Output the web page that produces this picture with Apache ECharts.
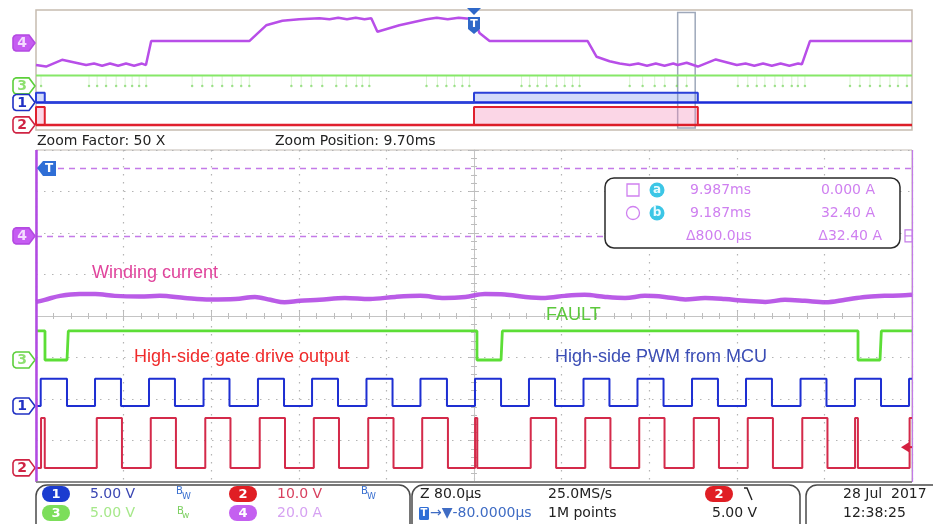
<!DOCTYPE html>
<html>
<head>
<meta charset="utf-8">
<title>Gate driver fault capture</title>
<script src="https://cdn.jsdelivr.net/npm/echarts@6.0.0/dist/echarts.min.js"></script>
<style>
html,body{margin:0;padding:0;background:#fff;}
#scope{width:933px;height:524px;}
</style>
</head>
<body>
<div id="scope"></div>
<script>
// ---- Channel vertical setup: units per division and ground position (divisions from screen centre)
const chScale = { ch1: 5, ch2: 10, ch3: 5, ch4: 20 };
const chPos   = { ch1: -2.17, ch2: -3.66, ch3: -1.06, ch4: 1.93 };

// ---- Overview record: time in ms, trigger at 0
const ovCurrent = [
  [-20.0,-32],[-19.54,-34],[-18.81,-25],[-17.71,-32],[-17.35,-30],[-16.98,-33],[-16.62,-30],
  [-16.25,-33],[-15.89,-30],[-15.52,-33],[-15.16,-30],[-14.98,-32],[-14.74,0],[-10.26,0],
  [-10.17,0],[-9.49,21],[-8.75,27],[-7.98,29],[-7.06,30.5],[-6.6,29],[-6.2,31],[-5.8,29],
  [-5.4,31],[-5.0,29],[-4.69,30.5],[-4.41,12.5],[-3.41,21],[-2.17,29],[-1.7,31],[-1.2,29],
  [-0.7,31],[-0.34,30],[0.0,30],[0.25,10.7],[0.71,0],[5.19,0],[5.6,-21],[6.19,-27],
  [6.65,-30],[7.11,-32],[7.5,-30],[7.9,-33],[8.3,-30],[8.7,-33],[9.1,-30],[9.30,-32],
  [9.71,-29],[10.22,-34],[11.04,-24.5],[12.0,-32],[12.4,-30],[12.8,-33],[13.2,-30],
  [13.6,-33],[14.0,-30],[14.4,-33],[14.8,-30],[14.97,-31],[15.34,0],[20.0,0]
];
// brief FAULT drops seen in the overview
const ovFaultDrops = [
  -19.77,-17.58,-17.21,-16.80,-16.34,-15.93,-15.61,-15.29,-14.97,
  -12.87,-12.41,-11.95,-11.50,-11.04,-10.63,-10.26,
  -8.34,-7.89,-7.43,-6.93,-6.29,-5.83,-5.37,-5.10,-4.78,
  -2.17,-1.67,-1.26,-0.89,-0.53,-0.21,
  2.17,2.54,2.90,3.31,3.77,4.14,4.50,4.82,
  7.11,7.70,8.25,8.71,9.26,9.71,
  12.05,12.50,12.91,13.28,13.74,14.10,14.51,14.79,15.11,
  17.17,17.62,18.08,18.54,18.99,19.36,19.77
];
// PWM / gate switching bursts in the overview (ms)
const ovBurstStart = [-20.0, 0.0];
const ovBurstEnd   = [-19.6, 10.22];
const zoomCentreMs = 9.70;
const zoomSpanMs = 0.8;

// ---- Zoomed window: time in µs relative to the zoom position
const current = [
  [-400,-31.8],[-392,-30.8],[-378,-28.9],[-360,-28.0],[-346,-28.0],[-328,-28.9],[-305,-29.2],
  [-287,-28.9],[-264,-29.9],[-241,-30.6],[-218,-30.4],[-200,-29.4],[-186,-30.8],[-173,-32.0],
  [-159,-31.3],[-141,-30.8],[-118,-29.9],[-95,-30.4],[-72,-29.4],[-49,-28.9],[-27,-29.9],
  [-8,-29.4],[10,-28.0],[28,-28.2],[47,-29.4],[65,-29.9],[83,-28.9],[101,-28.4],[120,-29.4],
  [138,-29.9],[156,-28.9],[174,-29.4],[193,-30.6],[211,-29.9],[229,-30.4],[248,-31.3],
  [266,-31.8],[284,-30.8],[302,-31.3],[321,-32.0],[339,-30.8],[357,-29.4],[375,-28.9],
  [389,-28.7],[400,-28.4]
];
const pwmRise = [-395.7,-346.1,-296.8,-247.0,-197.3,-147.9,-98.2,-48.9,0.9,50.2,100.0,149.3,199.1,248.4,298.2,347.9,397.3];
const pwmFall = [-371.7,-322.4,-273.1,-223.3,-173.5,-124.2,-74.4,-24.7,24.7,74.0,123.7,173.1,222.8,272.1,321.9,371.7];
const gateOn  = [-395.4,-344.5,-295.2,-245.4,-195.7,-146.3,-96.6,-47.3,1.0,51.8,101.6,150.9,200.7,250.0,299.8,348.0,397.8];
const gateOff = [-392.0,-321.5,-272.2,-222.4,-172.6,-123.3,-73.5,-23.8,3.0,75.0,124.6,174.0,223.7,273.0,322.8,350.6];
const faultDown = [-391.8, 2.7, 350.7];
const faultUp   = [-371.7, 24.7, 370.8];
const levels = { pwm: 3.3, gate: 12, fault: 3.5 };
const cursorLevels = [0, 32.4];
const trigLevel = 5.0;

const col = { ch1: '#1e2fd2', ch2: '#d42a4a', ch3: '#5cde36', ch4: '#b24ae4' };
const FONT = 'DejaVu Sans, Verdana, sans-serif';
const LABEL_FONT = 'Liberation Sans, Arial, sans-serif';

function yRange(ch) {
  return { min: (-4 - chPos[ch]) * chScale[ch], max: (4 - chPos[ch]) * chScale[ch] };
}
function hiddenY(grid, ch) {
  return Object.assign({ type: 'value', gridIndex: grid, show: false }, yRange(ch));
}
function pulseTrain(on, off, lo, hi, t0, t1) {
  const pts = [[t0, lo]];
  on.forEach((s, i) => {
    pts.push([s, lo], [s, hi]);
    if (i < off.length) pts.push([off[i], hi], [off[i], lo]);
    else pts.push([t1, hi]);
  });
  if (off.length >= on.length) pts.push([t1, lo]);
  return pts;
}
function dropTrain(down, up, lo, hi, t0, t1) {
  const pts = [[t0, hi]];
  down.forEach((s, i) => pts.push([s, hi], [s, lo], [up[i], lo], [up[i] + 1.2, hi]));
  pts.push([t1, hi]);
  return pts;
}
function bursts(starts, ends, hi) {
  const pts = [];
  starts.forEach((s, i) => pts.push([s, 0], [s, hi], [ends[i], hi], [ends[i], 0]));
  return pts;
}

const dotted = { type: [1.5, 6.5], color: '#b4b4b4', width: 1.2 };
const tickStyle = { color: '#bdbdbd', width: 1 };

const chart = echarts.init(document.getElementById('scope'), null, { renderer: 'canvas' });

const option = {
  animation: false,
  backgroundColor: '#ffffff',
  grid: [
    { left: 36, right: 21, top: 10, height: 120, show: true, borderColor: '#c6bcb0', borderWidth: 1.5, backgroundColor: 'transparent' },
    { left: 36, right: 21, top: 150, height: 332, show: true, borderColor: '#c2bab2', borderWidth: 1, backgroundColor: 'transparent' }
  ],
  xAxis: [
    { type: 'value', gridIndex: 0, min: -20, max: 20, show: false },
    { type: 'value', gridIndex: 1, min: -400, max: 400, interval: 80,
      axisLine: { show: false, onZero: false }, axisTick: { show: false }, axisLabel: { show: false },
      splitLine: { show: true, lineStyle: dotted } },
    { type: 'value', gridIndex: 1, min: -400, max: 400, interval: 80, position: 'bottom',
      axisLine: { show: true, onZero: true, onZeroAxisIndex: 4, lineStyle: { color: '#c4c4c4', width: 1 } },
      axisTick: { show: true, inside: true, length: 5, lineStyle: tickStyle },
      minorTick: { show: true, splitNumber: 5, length: 3, lineStyle: tickStyle },
      axisLabel: { show: false }, splitLine: { show: false } },
    { type: 'value', gridIndex: 1, min: -400, max: 400, interval: 80, position: 'bottom',
      axisLine: { show: false, onZero: true, onZeroAxisIndex: 4 },
      axisTick: { show: true, inside: false, length: 5, lineStyle: tickStyle },
      minorTick: { show: true, splitNumber: 5, length: 3, lineStyle: tickStyle },
      axisLabel: { show: false }, splitLine: { show: false } }
  ],
  yAxis: [
    hiddenY(0, 'ch1'), hiddenY(0, 'ch2'), hiddenY(0, 'ch3'), hiddenY(0, 'ch4'),
    { type: 'value', gridIndex: 1, min: -4, max: 4, interval: 1, position: 'left',
      axisLine: { show: true, onZero: true, onZeroAxisIndex: 1, lineStyle: { color: '#c4c4c4', width: 1 } },
      axisTick: { show: true, inside: true, length: 5, lineStyle: tickStyle },
      minorTick: { show: true, splitNumber: 5, length: 3, lineStyle: tickStyle },
      axisLabel: { show: false }, splitLine: { show: true, lineStyle: dotted } },
    { type: 'value', gridIndex: 1, min: -4, max: 4, interval: 1, position: 'left',
      axisLine: { show: false, onZero: true, onZeroAxisIndex: 1 },
      axisTick: { show: true, inside: false, length: 5, lineStyle: tickStyle },
      minorTick: { show: true, splitNumber: 5, length: 3, lineStyle: tickStyle },
      axisLabel: { show: false }, splitLine: { show: false } },
    hiddenY(1, 'ch1'), hiddenY(1, 'ch2'), hiddenY(1, 'ch3'), hiddenY(1, 'ch4')
  ],
  series: [
    // ---- overview traces
    { type: 'line', xAxisIndex: 0, yAxisIndex: 2, silent: true, showSymbol: false,
      data: [[-20, levels.fault], [20, levels.fault]], lineStyle: { color: '#86e868', width: 2 } },
    { type: 'scatter', xAxisIndex: 0, yAxisIndex: 2, silent: true, symbol: 'rect',
      symbolSize: [1, 10], symbolOffset: [0, -5],
      itemStyle: { color: 'rgba(120,220,90,0.35)' }, data: ovFaultDrops.map(t => [t, 0]) },
    { type: 'scatter', xAxisIndex: 0, yAxisIndex: 2, silent: true, symbol: 'circle', symbolSize: 2.5,
      itemStyle: { color: 'rgba(110,210,80,0.8)' }, data: ovFaultDrops.map(t => [t, 0]) },
    { type: 'line', xAxisIndex: 0, yAxisIndex: 0, silent: true, showSymbol: false,
      data: [[-20, 0], [20, 0]], lineStyle: { color: '#1a2bd8', width: 2.5 } },
    { type: 'line', xAxisIndex: 0, yAxisIndex: 0, silent: true, showSymbol: false,
      data: bursts(ovBurstStart, ovBurstEnd, levels.pwm),
      lineStyle: { color: '#2a40d8', width: 2 }, areaStyle: { color: 'rgba(90,120,235,0.38)' } },
    { type: 'line', xAxisIndex: 0, yAxisIndex: 1, silent: true, showSymbol: false,
      data: [[-20, 0], [20, 0]], lineStyle: { color: '#dc1e28', width: 2.5 } },
    { type: 'line', xAxisIndex: 0, yAxisIndex: 1, silent: true, showSymbol: false,
      data: bursts(ovBurstStart, ovBurstEnd, levels.gate),
      lineStyle: { color: '#e0202e', width: 2 }, areaStyle: { color: 'rgba(245,140,185,0.5)' } },
    { type: 'line', xAxisIndex: 0, yAxisIndex: 3, silent: true, showSymbol: false,
      data: ovCurrent, lineStyle: { color: '#b84ee8', width: 2.5 },
      markArea: { silent: true, itemStyle: { color: 'rgba(0,0,0,0)', borderColor: '#9ea8ba', borderWidth: 1.5 },
        data: [[{ xAxis: zoomCentreMs - zoomSpanMs / 2, yAxis: 38 }, { xAxis: zoomCentreMs + zoomSpanMs / 2, yAxis: -116 }]] } },

    // ---- zoomed window traces
    { type: 'line', xAxisIndex: 1, yAxisIndex: 9, silent: true, showSymbol: false, smooth: 0.35,
      data: current, lineStyle: { color: col.ch4, width: 4.5, opacity: 0.9 },
      markLine: { silent: true, symbol: ['none', 'none'], label: { show: false },
        lineStyle: { color: '#c47ae8', type: [6, 5], width: 1.4 },
        data: cursorLevels.map(v => ({ yAxis: v })).concat([
          { xAxis: -400, lineStyle: { type: 'solid', color: '#b24ae4', width: 2.5 } },
          { xAxis: 400, lineStyle: { type: 'solid', color: '#c27ae8', width: 1.2 } }
        ]) } },
    { type: 'line', xAxisIndex: 1, yAxisIndex: 8, silent: true, showSymbol: false,
      data: dropTrain(faultDown, faultUp, 0, levels.fault, -400, 400),
      lineStyle: { color: col.ch3, width: 2.8 } },
    { type: 'line', xAxisIndex: 1, yAxisIndex: 6, silent: true, showSymbol: false,
      data: pulseTrain(pwmRise, pwmFall, 0, levels.pwm, -400, 400),
      lineStyle: { color: col.ch1, width: 2 } },
    { type: 'line', xAxisIndex: 1, yAxisIndex: 7, silent: true, showSymbol: false,
      data: pulseTrain(gateOn, gateOff, 0, levels.gate, -400, 400),
      lineStyle: { color: col.ch2, width: 2 } }
  ]
};
chart.setOption(option);

// ---- on-screen markers, readouts and status bar
const toPx = (xi, yi, x, y) => chart.convertToPixel({ xAxisIndex: xi, yAxisIndex: yi }, [x, y]);

function tag(tipX, y, label, fill, stroke, txt) {
  const l = tipX - 22, r = tipX - 6;
  return { type: 'group', z: 100, children: [
    { type: 'polygon', shape: { points: [[l + 3, y - 8], [r, y - 8], [tipX, y], [r, y + 8], [l + 3, y + 8],
      [l + 1, y + 7], [l, y + 5], [l, y - 5], [l + 1, y - 7]] },
      style: { fill: fill, stroke: stroke, lineWidth: 1.6 } },
    { type: 'text', x: l + 9, y: y + 0.5, style: { text: label, fill: txt, font: 'bold 14px ' + FONT, align: 'center', verticalAlign: 'middle' } }
  ] };
}
function text(x, y, s, color, font, align) {
  return { type: 'text', z: 100, x: x, y: y, style: { text: s, fill: color, font: font, align: align || 'left', verticalAlign: 'middle' } };
}
function pill(x, y, label, fill, txt) {
  return { type: 'group', z: 100, children: [
    { type: 'rect', shape: { x: x, y: y - 8, width: 28, height: 16, r: 8 }, style: { fill: fill } },
    { type: 'text', x: x + 14, y: y + 0.5, style: { text: label, fill: txt || '#fff', font: 'bold 13px ' + FONT, align: 'center', verticalAlign: 'middle' } }
  ] };
}

const g = [];
// channel ground tags, zoomed window
const mainY = ch => toPx(1, { ch1: 6, ch2: 7, ch3: 8, ch4: 9 }[ch], 0, 0)[1];
const ovY = ch => toPx(0, { ch1: 0, ch2: 1, ch3: 2, ch4: 3 }[ch], 0, 0)[1];
g.push(tag(35, mainY('ch4'), '4', '#c65cf2', '#b44ae2', '#f4dcff'));
g.push(tag(35, mainY('ch3'), '3', '#ffffff', '#5ccf3a', '#8ee070'));
g.push(tag(35, mainY('ch1'), '1', '#ffffff', '#2030c4', '#2030c4'));
g.push(tag(35, mainY('ch2'), '2', '#ffffff', '#cf2444', '#cf2444'));
// overview tags
g.push(tag(35, ovY('ch4') + 2, '4', '#c65cf2', '#b44ae2', '#f4dcff'));
g.push(tag(35, ovY('ch3'), '3', '#ffffff', '#5ccf3a', '#8ee070'));
g.push(tag(35, ovY('ch1'), '1', '#ffffff', '#2030c4', '#2030c4'));
g.push(tag(35, ovY('ch2'), '2', '#ffffff', '#cf2444', '#cf2444'));

// trigger marker in the overview
const tx = toPx(0, 3, 0, 0)[0];
g.push({ type: 'polygon', z: 100, shape: { points: [[tx - 7, 8], [tx + 7, 8], [tx, 15]] }, style: { fill: '#2f68c8' } });
g.push({ type: 'polygon', z: 100, shape: { points: [[tx - 6, 17], [tx + 6, 17], [tx + 6, 29], [tx, 34], [tx - 6, 29]] }, style: { fill: '#2f68c8' } });
g.push(text(tx, 24, 'T', '#ffffff', 'bold 11px ' + FONT, 'center'));
// trigger-off-screen marker in the zoomed window
g.push({ type: 'polygon', z: 100, shape: { points: [[37, 168], [43, 161], [56, 161], [56, 176], [43, 176]] }, style: { fill: '#2f6ed6' } });
g.push(text(49, 168.5, 'T', '#ffffff', 'bold 12px ' + FONT, 'center'));
// trigger level arrow on channel 2
const ty = toPx(1, 7, 0, trigLevel)[1];
g.push({ type: 'polygon', z: 100, shape: { points: [[901, ty], [909, ty - 5], [909, ty + 5]] }, style: { fill: '#d42040' } });
g.push({ type: 'line', z: 100, shape: { x1: 908, y1: ty, x2: 912, y2: ty }, style: { stroke: '#d42040', lineWidth: 2 } });
// cursor end marker
const cy = toPx(1, 9, 0, 0)[1];
g.push({ type: 'rect', z: 100, shape: { x: 905, y: cy - 6, width: 7, height: 12 }, style: { fill: '#fff', stroke: '#c47ae8', lineWidth: 1.2 } });
g.push({ type: 'line', z: 100, shape: { x1: 905, y1: cy, x2: 912, y2: cy }, style: { stroke: '#c47ae8', lineWidth: 1 } });

// zoom info row
g.push(text(37, 141, 'Zoom Factor: 50 X', '#222', '14px ' + FONT));
g.push(text(275, 141, 'Zoom Position: 9.70ms', '#222', '14px ' + FONT));

// cursor readout
const rc = '#cf80f0';
g.push({ type: 'rect', z: 100, shape: { x: 605, y: 178, width: 295, height: 70, r: 9 }, style: { fill: '#ffffff', stroke: '#2a2a2a', lineWidth: 1.5 } });
g.push({ type: 'rect', z: 101, shape: { x: 627, y: 184, width: 12, height: 12 }, style: { fill: 'none', stroke: rc, lineWidth: 1.3 } });
g.push({ type: 'circle', z: 101, shape: { cx: 633, cy: 213, r: 6.5 }, style: { fill: 'none', stroke: rc, lineWidth: 1.3 } });
g.push({ type: 'circle', z: 101, shape: { cx: 657, cy: 190, r: 7.5 }, style: { fill: '#3cc6e6' } });
g.push({ type: 'circle', z: 101, shape: { cx: 657, cy: 213, r: 7.5 }, style: { fill: '#3cc6e6' } });
g.push(Object.assign(text(657, 190, 'a', '#e8fbff', 'bold 12px ' + FONT, 'center'), { z: 102 }));
g.push(Object.assign(text(657, 213, 'b', '#e8fbff', 'bold 12px ' + FONT, 'center'), { z: 102 }));
[['9.987ms', 190, 690], ['9.187ms', 213, 690], ['\u0394800.0\u00b5s', 236, 686]].forEach(r =>
  g.push(Object.assign(text(r[2], r[1], r[0], rc, '14px ' + FONT), { z: 102 })));
[['0.000 A', 190, 875], ['32.40 A', 213, 875], ['\u039432.40 A', 236, 882]].forEach(r =>
  g.push(Object.assign(text(r[2], r[1], r[0], rc, '14px ' + FONT, 'right'), { z: 102 })));

// trace annotations
g.push(text(92, 273, 'Winding current', '#e0449c', '18px ' + LABEL_FONT));
g.push(text(546, 315, 'FAULT', '#5cc83c', '18px ' + LABEL_FONT));
g.push(text(134, 357, 'High-side gate drive output', '#f02a2a', '18px ' + LABEL_FONT));
g.push(text(555, 357, 'High-side PWM from MCU', '#3b4db5', '18px ' + LABEL_FONT));

// status bar
g.push({ type: 'line', z: 100, shape: { x1: 36, y1: 482, x2: 912, y2: 482 }, style: { stroke: '#8a8a8a', lineWidth: 2 } });
[[36, 374], [412, 388], [806, 160]].forEach(b =>
  g.push({ type: 'rect', z: 100, shape: { x: b[0], y: 485, width: b[1], height: 50, r: 11 }, style: { fill: 'none', stroke: '#4a4a4a', lineWidth: 1.5 } }));
const SF = '14px ' + FONT;
g.push(pill(42, 494, '1', '#1b3cd0'));
g.push(text(90, 494, '5.00 V', '#3a46b2', SF));
g.push(text(176, 491, 'B', '#3a70d0', '10px ' + FONT));
g.push(text(182, 497, 'W', '#3a70d0', '9px ' + FONT));
g.push(pill(229, 494, '2', '#e01e24'));
g.push(text(277, 494, '10.0 V', '#d8405e', SF));
g.push(text(361, 491, 'B', '#3a70d0', '10px ' + FONT));
g.push(text(367, 497, 'W', '#3a70d0', '9px ' + FONT));
g.push(pill(42, 513, '3', '#7cde5a'));
g.push(text(90, 513, '5.00 V', '#a6e88a', SF));
g.push(text(177, 511, 'B', '#7cd060', '10px ' + FONT));
g.push(text(182, 516, 'w', '#7cd060', '9px ' + FONT));
g.push(pill(229, 513, '4', '#c460f0'));
g.push(text(277, 513, '20.0 A', '#d6a2f2', SF));

g.push(text(420, 494, 'Z 80.0\u00b5s', '#222', SF));
g.push(text(548, 494, '25.0MS/s', '#222', SF));
g.push(pill(705, 494, '2', '#e01e24'));
g.push({ type: 'polyline', z: 100, shape: { points: [[744, 488], [747, 488], [752, 500]] }, style: { stroke: '#222', lineWidth: 1.4, fill: 'none' } });
g.push({ type: 'rect', z: 100, shape: { x: 419, y: 507, width: 10, height: 13, r: 1.5 }, style: { fill: '#2f6ed6' } });
g.push(text(424, 513.5, 'T', '#ffffff', 'bold 10px ' + FONT, 'center'));
g.push(text(430, 513, '\u2192\u25bc-80.0000\u00b5s', '#3f6cc4', SF));
g.push(text(548, 513, '1M points', '#222', SF));
g.push(text(712, 513, '5.00 V', '#222', SF));
g.push(text(843, 494, '28 Jul  2017', '#222', SF));
g.push(text(843, 513, '12:38:25', '#222', SF));

chart.setOption({ graphic: g });
</script>
</body>
</html>
